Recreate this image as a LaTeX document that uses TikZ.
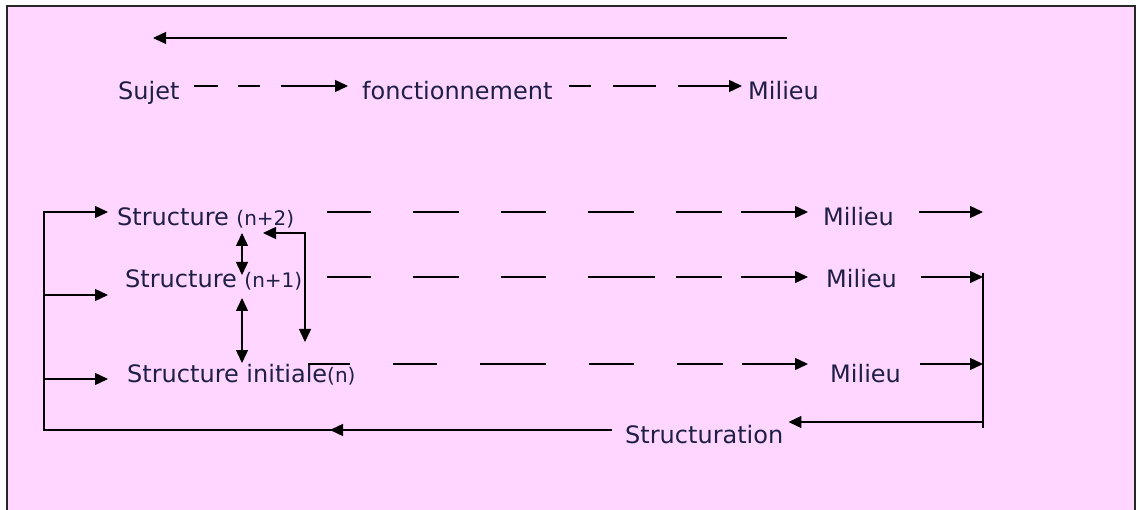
\documentclass[tikz,border=0pt]{standalone}
\usepackage{fontspec}
\setmainfont{DejaVu Sans}
\usetikzlibrary{arrows.meta}
\definecolor{bgpink}{RGB}{255,214,255}
\definecolor{inkcol}{RGB}{30,30,70}
% smaller index after "Structure"
\newcommand\stidx[1]{{\fontsize{20}{24}\selectfont #1}}
\begin{document}
\begin{tikzpicture}[x=1pt,y=-1pt,
  lbl/.style={inner sep=0pt,anchor=base west,text=inkcol,font=\fontsize{24}{28}\selectfont},
  link/.style={line width=1.4pt,draw=black},
  arr/.style={link,-{Triangle[length=13pt,width=12pt]}},
  dbl/.style={link,{Triangle[length=13pt,width=12pt]}-{Triangle[length=13pt,width=12pt]}}]

\useasboundingbox (0,0) rectangle (1137,510);
\clip (0,0) rectangle (1137,510);

% page frame
\fill[bgpink] (7,6) rectangle (1135,520);
\draw[line width=2pt,draw=black!85] (7,520) -- (7,6) -- (1135,6) -- (1135,520);

% texts
\node[lbl] (sujet) at (118,100) {Sujet};
\node[lbl] (fonct) at (362,100) {fonctionnement};
\node[lbl] (mtop)  at (748,100) {Milieu};
\node[lbl] (s2) at (117,226) {Structure \stidx{(n+2)}};
\node[lbl] (s1) at (125,288) {Structure \stidx{(n+1)}};
\node[lbl] (s0) at (127,382) {Structure initiale\stidx{(n)}};
\node[lbl] (m2) at (823,226) {Milieu};
\node[lbl] (m1) at (826,288) {Milieu};
\node[lbl] (m0) at (830,382) {Milieu};
\node[lbl] (strc) at (625,443) {Structuration};

% line levels
\coordinate (ln0) at (0,86);
\coordinate (ln2) at (0,212);
\coordinate (ln1) at (0,277);
\coordinate (lnI) at (0,364);
\coordinate (lnS) at (0,430);
\coordinate (lnB) at (0,422);

% top return arrow
\coordinate (topR) at (787,38);
\coordinate (topL) at (153,38);
\draw[arr] (topR) -- (topL);

% Sujet -> fonctionnement -> Milieu
\draw[arr,dash pattern=on 0pt off 14pt on 24pt off 20pt on 22pt off 21pt on 200pt,shorten >=14pt]
  (sujet.east |- ln0) -- (fonct.west |- ln0);
\draw[arr,dash pattern=on 0pt off 16pt on 22pt off 22pt on 43pt off 22pt on 200pt,shorten >=6pt]
  (fonct.east |- ln0) -- (mtop.west |- ln0);

% structures -> milieux
\draw[arr,dash pattern=on 0pt off 33pt on 44pt off 42pt on 46pt off 42pt on 45pt off 42pt on 46pt off 42pt on 46pt off 19pt on 300pt,shorten >=15pt]
  (s2.east |- ln2) -- (m2.west |- ln2);
\draw[arr,dash pattern=on 0pt off 25pt on 44pt off 42pt on 46pt off 42pt on 45pt off 42pt on 67pt off 21pt on 46pt off 19pt on 300pt,shorten >=18pt]
  (s1.east |- ln1) -- (m1.west |- ln1);
\coordinate (d0) at (308,364);
\draw[arr,dash pattern=on 42pt off 43pt on 44pt off 43pt on 66pt off 43pt on 45pt off 43pt on 46pt off 19pt on 300pt,shorten >=22pt]
  (d0) -- (m0.west |- lnI);

% outputs of the milieux
\coordinate (out2) at (983,212);
\coordinate (brT) at (983,273);
\coordinate (brB) at (983,428);
\draw[arr,shorten <=25pt] (m2.east |- ln2) -- (out2);
\draw[arr,shorten <=24pt] (m1.east |- ln1) -- (brT |- ln1);
\draw[arr,shorten <=19pt] (m0.east |- lnI) -- (brT |- lnI);
\draw[link] (brT) -- (brB);
\draw[arr,shorten >=5pt] (brT |- lnB) -- (strc.east |- lnB);

% structuration feedback rail
\coordinate (railTop) at (44,212);
\coordinate (railMid) at (44,295);
\coordinate (railLow) at (44,379);
\coordinate (railBot) at (44,430);
\coordinate (midTip) at (330,430);
\draw[arr,shorten <=13pt,shorten >=9pt]
  (strc.west |- lnS) -- (railBot) -- (railTop) -- (s2.west |- railTop);
\draw[arr,shorten <=13pt] (strc.west |- lnS) -- (midTip);
\draw[arr,shorten >=17pt] (railMid) -- (s1.west |- railMid);
\draw[arr,shorten >=19pt] (railLow) -- (s0.west |- railLow);

% links between the structure levels
\coordinate (v1a) at (242,233);
\coordinate (v1b) at (242,275);
\coordinate (v2a) at (242,298);
\coordinate (v2b) at (242,363);
\draw[dbl] (v1a) -- (v1b);
\draw[dbl] (v2a) -- (v2b);
\coordinate (bA) at (263,233);
\coordinate (bC) at (305,233);
\coordinate (bD) at (305,342);
\draw[dbl] (bA) -- (bC) -- (bD);

\end{tikzpicture}
\end{document}
